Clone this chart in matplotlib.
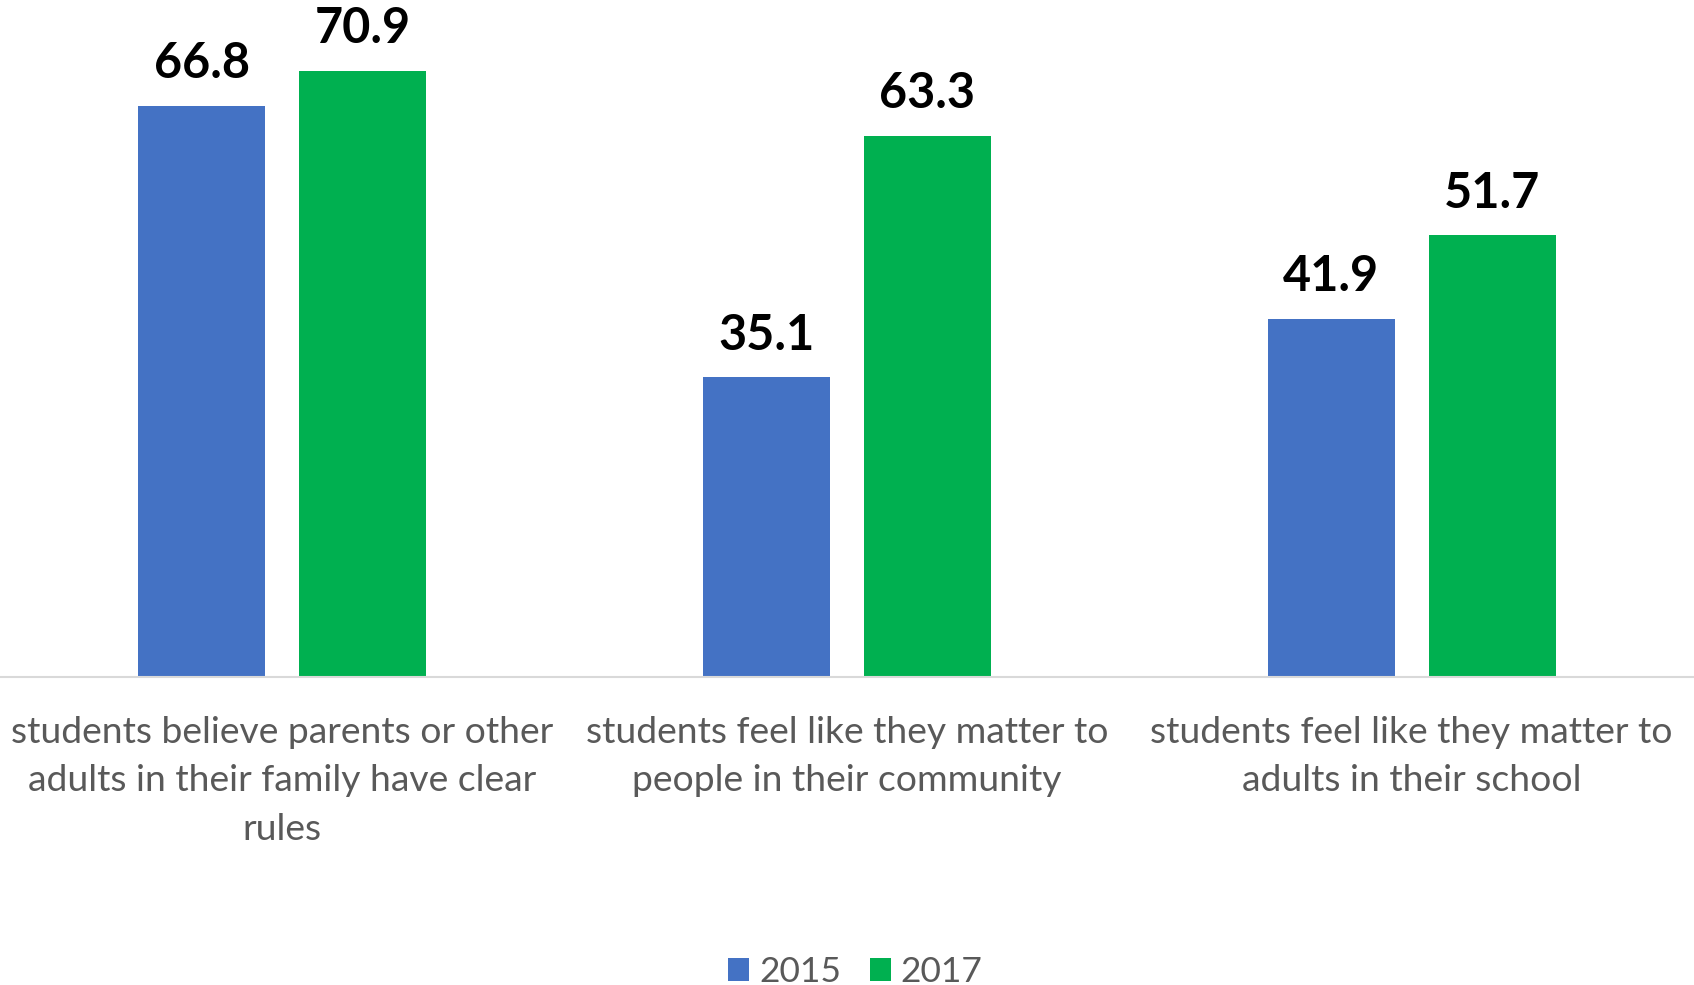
import numpy as np
import matplotlib.pyplot as plt

# --- DATA ---
categories = [
    "students believe parents or other\nadults in their family have clear\nrules",
    "students feel like they matter to\npeople in their community",
    "students feel like they matter to\nadults in their school",
]
years = ["2015", "2017"]
values_2015 = [66.8, 35.1, 41.9]
values_2017 = [70.9, 63.3, 51.7]

COLORS = ["#4472C4", "#00B050"]
TEXT_GRAY = "#595959"
FONT = "Lato"

fig = plt.figure(figsize=(16.94, 9.85), dpi=100)
ax = fig.add_axes([0, 0.3123, 1, 0.6948])

x = np.arange(len(categories))
width = 0.225
offset = 0.1425

for vals, color, label, dx in zip([values_2015, values_2017], COLORS, years, [-offset, offset]):
    bars = ax.bar(x + dx, vals, width, color=color, label=label)
    for b, v in zip(bars, vals):
        ax.annotate(f"{v:.1f}", (b.get_x() + b.get_width() / 2, v),
                    xytext=(0, 14), textcoords="offset points",
                    ha="center", va="bottom", fontsize=35, fontweight="bold",
                    family=FONT, color="black")

ax.set_xlim(-0.5, len(categories) - 0.5)
ax.set_ylim(0, 80)
ax.set_yticks([])
for side in ["top", "left", "right"]:
    ax.spines[side].set_visible(False)
ax.spines["bottom"].set_color("#D9D9D9")
ax.spines["bottom"].set_linewidth(1.5)

ax.set_xticks(x)
ax.set_xticklabels(categories, fontsize=26.8, family=FONT, color=TEXT_GRAY,
                   linespacing=1.56)
ax.tick_params(axis="x", length=0, pad=28)

leg = fig.legend(loc="center", bbox_to_anchor=(0.505, 0.013), ncol=2,
                 frameon=False, handlelength=0.6, handleheight=0.6,
                 handletextpad=0.28, columnspacing=0.8,
                 prop={"family": FONT, "size": 25.5})
for t in leg.get_texts():
    t.set_color(TEXT_GRAY)

plt.savefig("out.png", dpi=100)
